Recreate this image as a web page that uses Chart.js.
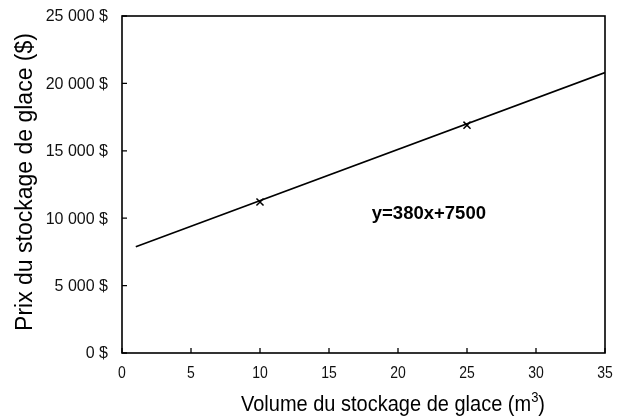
<!DOCTYPE html>
<html><head><meta charset="utf-8">
<script src="https://cdn.jsdelivr.net/npm/chart.js@4"></script>
<style>html,body{margin:0;padding:0;background:#fff}#wrap{width:617px;height:417px;position:relative}</style>
</head><body><div id="wrap"><canvas id="c"></canvas></div>
<script>
const xTickValues = [0, 5, 10, 15, 20, 25, 30, 35];
const yTickValues = [0, 5000, 10000, 15000, 20000, 25000];
const fitLineX = [1, 35];
const fitLineY = [7880, 20800];
const markerX = [10, 25];
const markerY = [11200, 16900];
const equationText = "y=380x+7500";
const equationAt = [18.1, 10350];
const xTitleMain = "Volume du stockage de glace (m";
const xTitleSup = "3";
const xTitleEnd = ")";
const yTitleText = "Prix du stockage de glace ($)";

const FONT = "'Liberation Sans', Arial, sans-serif";
function fmtDollar(v){
  const s = String(Math.round(v)).replace(/\B(?=(\d{3})+(?!\d))/g, ' ');
  return s + ' $';
}

const decor = {
  id: 'decor',
  afterDraw(chart){
    const ctx = chart.ctx, a = chart.chartArea;
    const xs = chart.scales.x, ys = chart.scales.y;
    ctx.save();
    // frame
    ctx.strokeStyle = '#000'; ctx.lineWidth = 1.6;
    ctx.strokeRect(a.left, a.top, a.right - a.left, a.bottom - a.top);
    // inward ticks
    ctx.lineWidth = 1.3;
    ctx.beginPath();
    xTickValues.forEach(v => { const p = xs.getPixelForValue(v); ctx.moveTo(p, a.bottom); ctx.lineTo(p, a.bottom - 5); });
    yTickValues.forEach(v => { const p = ys.getPixelForValue(v); ctx.moveTo(a.left, p); ctx.lineTo(a.left + 5, p); });
    ctx.stroke();
    ctx.fillStyle = '#111';
    // y tick labels
    ctx.font = "16px " + FONT;
    ctx.textAlign = 'right'; ctx.textBaseline = 'middle';
    yTickValues.forEach(v => { ctx.fillText(fmtDollar(v), a.left - 14, ys.getPixelForValue(v) + 1); });
    // x tick labels
    xTickValues.forEach(v => {
      ctx.save();
      ctx.translate(xs.getPixelForValue(v), a.bottom + 21);
      ctx.scale(1, 1.15);
      ctx.font = "14px " + FONT;
      ctx.textAlign = 'center'; ctx.textBaseline = 'middle';
      ctx.fillText(String(v), 0, 0);
      ctx.restore();
    });
    // equation
    ctx.fillStyle = '#000';
    ctx.font = "bold 18.5px " + FONT;
    ctx.textAlign = 'left'; ctx.textBaseline = 'middle';
    ctx.fillText(equationText, xs.getPixelForValue(equationAt[0]), ys.getPixelForValue(equationAt[1]));
    // x title
    ctx.save();
    ctx.translate(0, 411);
    ctx.scale(1, 1.1);
    ctx.font = "20px " + FONT;
    ctx.textBaseline = 'alphabetic';
    const w1 = ctx.measureText(xTitleMain).width;
    ctx.font = "13px " + FONT;
    const w2 = ctx.measureText(xTitleSup).width;
    ctx.font = "20px " + FONT;
    const w3 = ctx.measureText(xTitleEnd).width;
    let x0 = 393 - (w1 + w2 + w3) / 2;
    ctx.textAlign = 'left';
    ctx.fillText(xTitleMain, x0, 0);
    ctx.font = "13px " + FONT;
    ctx.fillText(xTitleSup, x0 + w1, -8);
    ctx.font = "20px " + FONT;
    ctx.fillText(xTitleEnd, x0 + w1 + w2, 0);
    ctx.restore();
    // y title
    ctx.save();
    ctx.translate(32, 182);
    ctx.rotate(-Math.PI / 2);
    ctx.font = "23px " + FONT;
    ctx.textAlign = 'center'; ctx.textBaseline = 'alphabetic';
    ctx.fillText(yTitleText, 0, 0);
    ctx.restore();
    ctx.restore();
  }
};

new Chart(document.getElementById('c'), {
  type: 'scatter',
  data: {
    datasets: [
      { data: fitLineX.map((x, i) => ({x, y: fitLineY[i]})), showLine: true, borderColor: '#000', borderWidth: 1.6, pointRadius: 0 },
      { data: markerX.map((x, i) => ({x, y: markerY[i]})), showLine: false, pointStyle: 'crossRot', pointRadius: 5, borderColor: '#000', borderWidth: 1.5, backgroundColor: '#000' }
    ]
  },
  plugins: [decor],
  options: {
    responsive: true, maintainAspectRatio: false, animation: false,
    layout: { padding: { top: 16, right: 12, left: 0, bottom: 0 } },
    plugins: { legend: { display: false }, tooltip: { enabled: false } },
    scales: {
      x: {
        type: 'linear', min: 0, max: 35,
        afterBuildTicks: s => { s.ticks = xTickValues.map(v => ({value: v})); },
        afterFit: s => { s.height = 64; },
        grid: { display: false, drawTicks: false },
        border: { display: false },
        ticks: { display: false }
      },
      y: {
        type: 'linear', min: 0, max: 25000,
        afterBuildTicks: s => { s.ticks = yTickValues.map(v => ({value: v})); },
        afterFit: s => { s.width = 122; },
        grid: { display: false, drawTicks: false },
        border: { display: false },
        ticks: { display: false }
      }
    }
  }
});
</script>
</body></html>
